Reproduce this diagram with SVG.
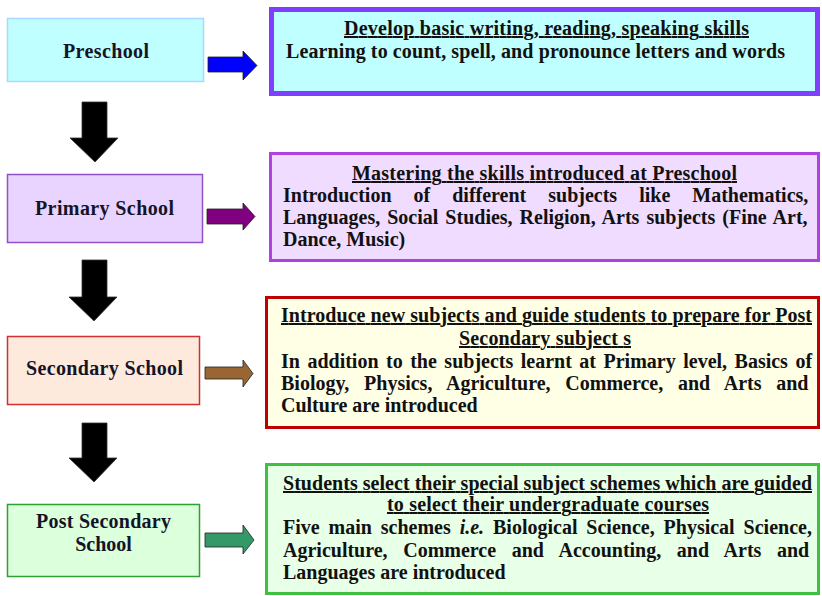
<svg xmlns="http://www.w3.org/2000/svg" width="822" height="596" viewBox="0 0 822 596">
<style>
text{font-family:"Liberation Serif","Times New Roman",serif;font-weight:bold;font-size:20px;fill:#111}
.lbl{text-anchor:middle;fill:#141428}
.hd{text-anchor:middle;text-decoration:underline}
.down{fill:#000;stroke:#333;stroke-width:0.8}
.side{stroke:#222;stroke-width:0.8}
</style>
<rect width="822" height="596" fill="#fff"/>
<g id="connectors">
  <path class="down" d="M82,102 H107 V138 H118 L95,162 L70,138 H82 Z"/>
  <path class="down" d="M82,260 H107 V297 H117 L94,321 L69,297 H82 Z"/>
  <path class="down" d="M82,423 H107 V458 H117 L94,482 L69,458 H82 Z"/>
  <path class="side" fill="#0000ff" d="M208,57 H243 V51 L257,65.5 L243,80 V72 H208 Z"/>
  <path class="side" fill="#800080" d="M207,209 H243 V203 L255,216.5 L243,230 V224 H207 Z"/>
  <path class="side" fill="#996633" d="M205,367 H243 V360 L253,373.5 L243,387 V379 H205 Z"/>
  <path class="side" fill="#339966" d="M205,533 H243 V525 L254,540 L243,554 V547 H205 Z"/>
</g>
<g id="preschool">
  <rect x="7.5" y="18.5" width="196" height="63" fill="#c0ffff" stroke="#a8d8ff" stroke-width="1.5"/>
  <text class="lbl" x="106" y="57.5" textLength="86" lengthAdjust="spacing">Preschool</text>
</g>
<g id="primary">
  <rect x="7.5" y="174.5" width="195" height="68" fill="#e8d4ff" stroke="#9050c8" stroke-width="1.5"/>
  <text class="lbl" x="104.5" y="215" textLength="139" lengthAdjust="spacing">Primary School</text>
</g>
<g id="secondary">
  <rect x="7.5" y="336.5" width="192" height="68" fill="#fdeadc" stroke="#d03030" stroke-width="1.5"/>
  <text class="lbl" x="104.5" y="375" textLength="157" lengthAdjust="spacing">Secondary School</text>
</g>
<g id="postsecondary">
  <rect x="7.5" y="504.5" width="192" height="72" fill="#dcffdc" stroke="#30a030" stroke-width="1.5"/>
  <text class="lbl" x="103.5" y="528" textLength="135" lengthAdjust="spacing">Post Secondary</text>
  <text class="lbl" x="103.5" y="551">School</text>
</g>
<g id="box-preschool">
  <rect x="271.5" y="9.5" width="546" height="84" fill="#c0ffff" stroke="#7f3fff" stroke-width="5"/>
  <text class="hd" x="546.5" y="35" textLength="405" lengthAdjust="spacing">Develop basic writing, reading, speaking skills</text>
  <text x="286" y="58" textLength="499" lengthAdjust="spacing">Learning to count, spell, and pronounce letters and words</text>
</g>
<g id="box-primary">
  <rect x="270.5" y="153.5" width="548" height="107" fill="#f0dcff" stroke="#b040e0" stroke-width="3"/>
  <text class="hd" x="544.5" y="180" textLength="385" lengthAdjust="spacing">Mastering the skills introduced at Preschool</text>
  <text x="283" y="202" word-spacing="17">Introduction of different subjects like Mathematics,</text>
  <text x="283" y="224" word-spacing="2">Languages, Social Studies, Religion, Arts subjects (Fine Art,</text>
  <text x="283" y="246">Dance, Music)</text>
</g>
<g id="box-secondary">
  <rect x="266.5" y="297.5" width="552" height="130" fill="#ffffe6" stroke="#c00000" stroke-width="3"/>
  <text class="hd" x="546.5" y="322" textLength="531" lengthAdjust="spacing">Introduce new subjects and guide students to prepare for Post</text>
  <text class="hd" x="545" y="345" textLength="172" lengthAdjust="spacing">Secondary subject s</text>
  <text x="281" y="368" word-spacing="2.5">In addition to the subjects learnt at Primary level, Basics of</text>
  <text x="281" y="390" word-spacing="9.7">Biology, Physics, Agriculture, Commerce, and Arts and</text>
  <text x="281" y="412">Culture are introduced</text>
</g>
<g id="box-postsecondary">
  <rect x="266.5" y="464.5" width="552" height="129" fill="#e8ffe8" stroke="#40c040" stroke-width="3"/>
  <text class="hd" x="547.5" y="490" textLength="529" lengthAdjust="spacing">Students select their special subject schemes which are guided</text>
  <text class="hd" x="548" y="511" textLength="322" lengthAdjust="spacing">to select their undergraduate courses</text>
  <text x="283" y="534" word-spacing="3.9">Five main schemes <tspan font-style="italic">i.e.</tspan> Biological Science, Physical Science,</text>
  <text x="283" y="557" word-spacing="10.6">Agriculture, Commerce and Accounting, and Arts and</text>
  <text x="283" y="579">Languages are introduced</text>
</g>
</svg>
